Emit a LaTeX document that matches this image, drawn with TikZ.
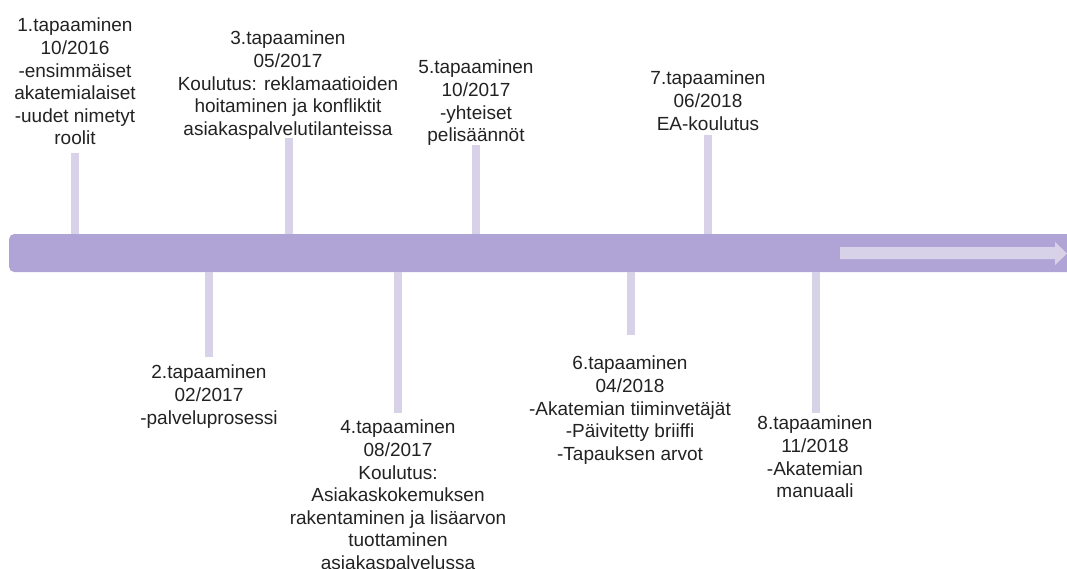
\documentclass[tikz,border=0pt]{standalone}
\usepackage{fontspec}
\setmainfont{Liberation Sans}
\definecolor{barc}{HTML}{B0A4D6}
\definecolor{stickc}{HTML}{D8D2E8}
\definecolor{txtc}{HTML}{222222}
\begin{document}
\begin{tikzpicture}[x=1pt,y=-1pt,
  lbl/.style={anchor=north,inner sep=0pt,align=center,text=txtc,
    font=\fontsize{19}{22.6}\selectfont},
  stick/.style={draw=stickc,line width=8pt},
  bar/.style={fill=barc,rounded corners=5pt,minimum width=1070pt,minimum height=38pt,inner sep=0pt,anchor=west}]
\useasboundingbox (0,0) rectangle (1067,568);
\node[bar] (bar) at (9,253) {};
% labels above
\node[lbl] (n1) at (75,18) {1.tapaaminen\\10/2016\\-ensimmäiset\\akatemialaiset\\-uudet nimetyt\\roolit};
\node[lbl] (n3) at (288,31) {3.tapaaminen\\05/2017\\Koulutus: reklamaatioiden\\hoitaminen ja konfliktit\\asiakaspalvelutilanteissa};
\node[lbl] (n5) at (476,60) {5.tapaaminen\\10/2017\\-yhteiset\\pelisäännöt};
\node[lbl] (n7) at (708,71) {7.tapaaminen\\06/2018\\EA-koulutus};
% labels below
\node[lbl] (n2) at (209,365) {2.tapaaminen\\02/2017\\-palveluprosessi};
\node[lbl] (n4) at (398,420) {4.tapaaminen\\08/2017\\Koulutus:\\Asiakaskokemuksen\\rakentaminen ja lisäarvon\\tuottaminen\\asiakaspalvelussa};
\node[lbl] (n6) at (630,356) {6.tapaaminen\\04/2018\\-Akatemian tiiminvetäjät\\-Päivitetty briiffi\\-Tapauksen arvot};
\node[lbl] (n8) at (815,416) {8.tapaaminen\\11/2018\\-Akatemian\\manuaali};
% sticks
\coordinate (s1) at (75,153);
\coordinate (s3) at (289,138);
\coordinate (s5) at (476,145);
\coordinate (s7) at (708,135);
\coordinate (s2) at (209,357);
\coordinate (s4) at (398,413);
\coordinate (s6) at (631,335);
\coordinate (s8) at (816,413);
\draw[stick] (s1) -- (s1 |- bar.north);
\draw[stick] (s3) -- (s3 |- bar.north);
\draw[stick] (s5) -- (s5 |- bar.north);
\draw[stick] (s7) -- (s7 |- bar.north);
\draw[stick] (s2) -- (s2 |- bar.south);
\draw[stick] (s4) -- (s4 |- bar.south);
\draw[stick] (s6) -- (s6 |- bar.south);
\draw[stick] (s8) -- (s8 |- bar.south);
% inner arrow
\fill[stickc] (840,247) -- (1055,247) -- (1055,242) -- (1067,253.5) -- (1055,265) -- (1055,259) -- (840,259) -- cycle;
\end{tikzpicture}
\end{document}
